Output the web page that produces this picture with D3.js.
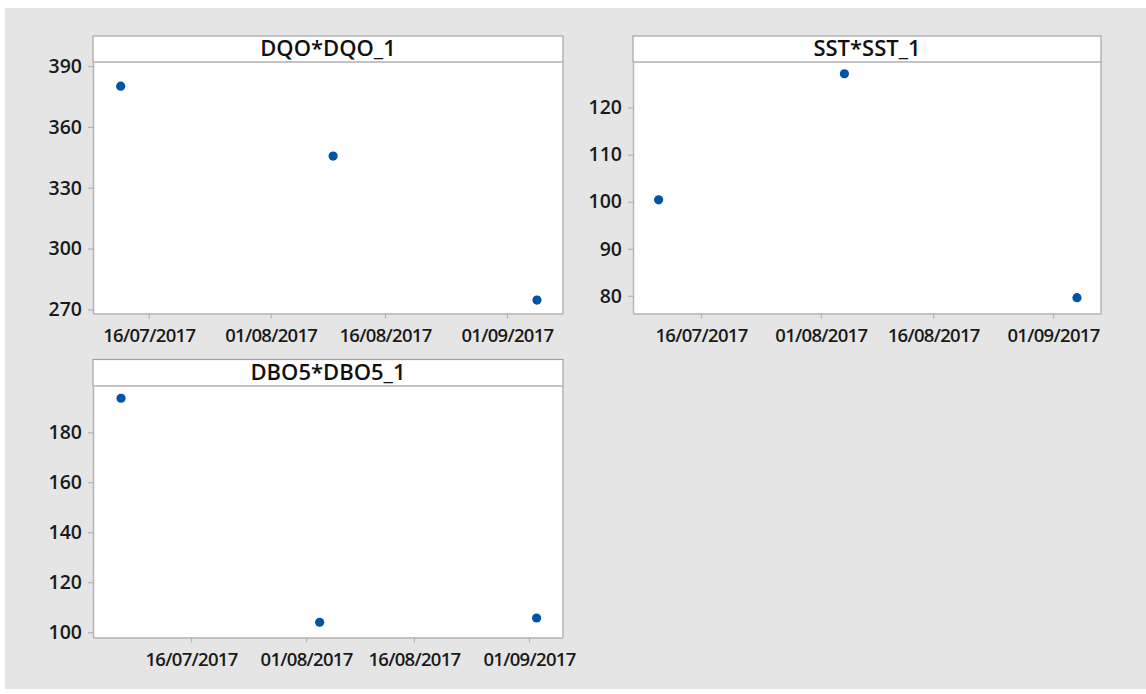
<!DOCTYPE html>
<html>
<head>
<meta charset="utf-8">
<script src="https://cdn.jsdelivr.net/npm/d3@7"></script>
<style>
  html, body { margin: 0; padding: 0; background: #ffffff; }
  svg { display: block; }
</style>
</head>
<body>
<svg id="chart" width="1146" height="694"></svg>
<script>
// ---------- data ----------
const panelTitles = ["DQO*DQO_1", "SST*SST_1", "DBO5*DBO5_1"];

const dqoDates  = ["2017-07-12T07:40", "2017-08-09T04:30", "2017-09-04T22:30"];
const dqoValues = [380.1, 345.6, 274.6];

const sstDates  = ["2017-07-10T08:10", "2017-08-04T03:35", "2017-09-04T04:50"];
const sstValues = [100.4, 127.2, 79.6];

const dboDates  = ["2017-07-06T06:30", "2017-08-02T21:20", "2017-09-02T01:25"];
const dboValues = [193.6, 104.0, 105.7];

// axis limits (scale domains)
const dqoXLimits = ["2017-07-08T16:30", "2017-09-08T08:25"];
const sstXLimits = ["2017-07-06T22:05", "2017-09-07T09:50"];
const dboXLimits = ["2017-07-02T08:55", "2017-09-05T17:30"];
const dqoYLimits = [268, 392];
const sstYLimits = [76.24, 129.7];
const dboYLimits = [97.9, 198.5];

// tick labels
const xTickDates = ["2017-07-16", "2017-08-01", "2017-08-16", "2017-09-01"];
const dqoYTicks = [270, 300, 330, 360, 390];
const sstYTicks = [80, 90, 100, 110, 120];
const dboYTicks = [100, 120, 140, 160, 180];

// ---------- layout ----------
const parseT = d3.utcParse("%Y-%m-%dT%H:%M");
const parseD = d3.utcParse("%Y-%m-%d");
const fmt = d3.utcFormat("%d/%m/%Y");

const panels = [
  { title: panelTitles[0], dates: dqoDates, values: dqoValues, xl: dqoXLimits, yl: dqoYLimits, yt: dqoYTicks,
    box: { x0: 93, x1: 563, hTop: 36, pTop: 62, pBot: 313.5 } },
  { title: panelTitles[1], dates: sstDates, values: sstValues, xl: sstXLimits, yl: sstYLimits, yt: sstYTicks,
    box: { x0: 633, x1: 1101, hTop: 36, pTop: 62, pBot: 313.5 } },
  { title: panelTitles[2], dates: dboDates, values: dboValues, xl: dboXLimits, yl: dboYLimits, yt: dboYTicks,
    box: { x0: 93, x1: 563, hTop: 359.5, pTop: 386, pBot: 637.5 } }
];

const svg = d3.select("#chart");
svg.append("rect").attr("x", 5).attr("y", 8).attr("width", 1141).attr("height", 681).attr("fill", "#e5e5e5");

const axisColor = "#b4b4b4";
const tickFont = "'Open Sans', 'Noto Sans', sans-serif";

panels.forEach(p => {
  const b = p.box;
  const g = svg.append("g");
  const x = d3.scaleUtc().domain(p.xl.map(parseT)).range([b.x0, b.x1]);
  const y = d3.scaleLinear().domain(p.yl).range([b.pBot, b.pTop]);

  // plot area
  g.append("rect").attr("x", b.x0).attr("y", b.pTop).attr("width", b.x1 - b.x0).attr("height", b.pBot - b.pTop)
    .attr("fill", "#ffffff");
  g.append("line").attr("x1", b.x1).attr("x2", b.x1).attr("y1", b.pTop).attr("y2", b.pBot)
    .attr("stroke", axisColor).attr("stroke-width", 1.5);

  // header
  g.append("rect").attr("x", b.x0).attr("y", b.hTop).attr("width", b.x1 - b.x0).attr("height", b.pTop - b.hTop)
    .attr("fill", "#ffffff").attr("stroke", "#a4a4a4").attr("stroke-width", 1.2);
  g.append("line").attr("x1", b.x0).attr("x2", b.x1).attr("y1", b.pTop).attr("y2", b.pTop)
    .attr("stroke", "#c2c2c2").attr("stroke-width", 1.5);
  g.append("text").attr("x", (b.x0 + b.x1) / 2).attr("y", b.pTop - 6.5)
    .attr("text-anchor", "middle").attr("font-family", tickFont).attr("font-size", 22).attr("font-weight", 600)
    .attr("fill", "#111").text(p.title);

  // axes
  const yAxis = d3.axisLeft(y).tickValues(p.yt).tickSize(5).tickSizeOuter(0).tickPadding(6).tickFormat(d3.format("d"));
  const xAxis = d3.axisBottom(x).tickValues(xTickDates.map(parseD)).tickSize(5).tickSizeOuter(0).tickPadding(10.5).tickFormat(fmt);

  const ya = g.append("g").attr("transform", `translate(${b.x0},0)`).call(yAxis);
  const xa = g.append("g").attr("transform", `translate(0,${b.pBot})`).call(xAxis);
  [ya, xa].forEach(a => {
    a.select(".domain").attr("stroke", axisColor).attr("stroke-width", 1.5);
    a.selectAll(".tick line").attr("stroke", axisColor).attr("stroke-width", 1.2);
    a.selectAll(".tick text").attr("font-family", tickFont).attr("font-weight", 600).attr("fill", "#1a1a1a");
  });
  ya.selectAll(".tick text").attr("font-size", 19.5);
  xa.selectAll(".tick text").attr("font-size", 18.5).attr("letter-spacing", -0.7);

  // points
  const pts = p.dates.map((d, i) => ({ t: parseT(d), v: p.values[i] }));
  g.append("g").selectAll("circle").data(pts).join("circle")
    .attr("cx", d => x(d.t)).attr("cy", d => y(d.v)).attr("r", 4.6).attr("fill", "#0054a6");
});
</script>
</body>
</html>
